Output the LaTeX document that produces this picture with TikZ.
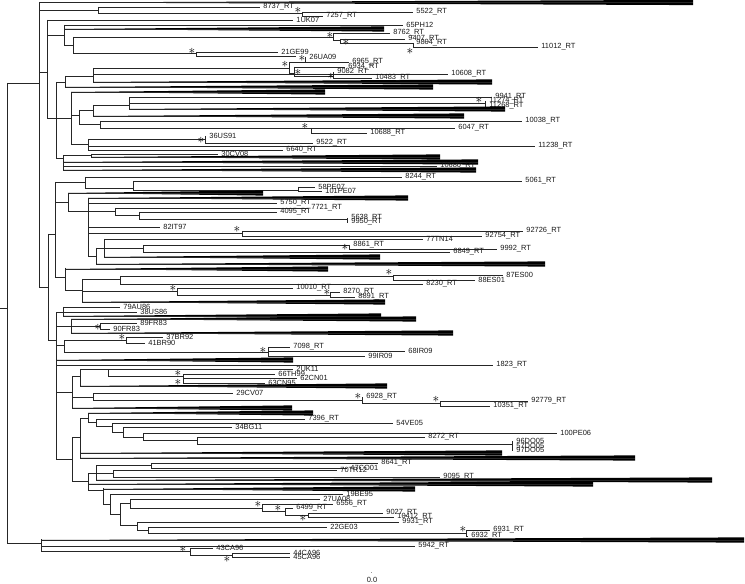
\documentclass[tikz,border=0pt]{standalone}
\usepackage{fontspec}
\setmainfont{Liberation Sans}

% branch with a tip label
\newcommand{\leaf}[4]{\draw (#1,#2) -- (#3,#2) node[lbl] (#4) {#4};}
\newcommand{\rtleaf}[4]{\draw (#1,#2) -- (#3,#2) node[lbl] (rt#4) {#4\_RT};}
% collapsed clade
\newcommand{\clade}[3]{\fill[black] (#1,#2) -- (#3,#2-2.6) -- (#3,#2+2.6) -- cycle;
  \draw (#1,#2) -- (#3,#2);}
% bootstrap mark
\newcommand{\boot}[3]{\node[sig] (#1) at (#2,#3) {$\ast$};}

\begin{document}
\begin{tikzpicture}[x=0.75pt, y=-0.75pt, line width=0.65pt, draw=black!85,
    lbl/.style={anchor=west, inner xsep=2.2pt, inner ysep=0pt, text=black!90,
                font=\fontsize{5.6}{6}\selectfont},
    sig/.style={inner sep=0pt, font=\fontsize{10}{10}\selectfont}]
\fill[white] (0,0) rectangle (745,584);
\useasboundingbox (0,0) rectangle (745,584);

% root
\draw (0,308) -- (7,308);
\draw (7,83) -- (7,543);
\draw (7,83) -- (39,83);
\draw (7,543) -- (41,543);

% upper half
\draw (39,2) -- (39,287);
\clade{39}{2.5}{693}
\draw (39,10) -- (98,10); \draw (98,7) -- (98,13);
\rtleaf{98}{7}{260}{8737}
\draw (98,13) -- (302,13); \boot{s1}{298}{10}
\draw (302,12) -- (302,16);
\rtleaf{302}{12}{413}{5522}
\rtleaf{302}{16}{323}{7257}

\draw (39,72) -- (47,72); \draw (47,20) -- (47,118);
\leaf{47}{20}{293}{1UK07}
\draw (47,35) -- (64,35); \draw (64,25) -- (64,45);
\leaf{64}{25}{403}{65PH12}
\clade{64}{29}{384}
\draw (64,45) -- (73,45); \draw (73,37) -- (73,53);
\draw (73,37) -- (333,37); \boot{s2}{330}{35}
\draw (333,33) -- (333,40);
\rtleaf{333}{33}{390}{8762}
\draw (333,40) -- (340,40); \boot{s3}{346}{42}
\draw (340,39) -- (340,43);
\rtleaf{340}{39}{405}{9407}
\rtleaf{340}{43}{413}{9804}
\draw (413,43) -- (413,47);
\rtleaf{413}{47}{538}{11012}
\boot{s4}{410}{51}
\draw (73,53) -- (196,53); \boot{s5}{192}{51}
\draw (196,52) -- (196,56);
\leaf{196}{52}{278}{21GE99}
\draw (196,56) -- (296,56);

\draw (47,118) -- (71,118);
\draw (56,82) -- (56,158);
\draw (56,82) -- (65,82); \draw (65,76) -- (65,87);
\clade{65}{87}{433}
\draw (65,76) -- (93,76); \draw (93,68) -- (93,82);
\rtleaf{93}{74}{448}{10608}
\clade{93}{82}{492}
\draw (93,68) -- (289,68); \boot{s6}{285}{64}
\draw (289,62) -- (289,73);
\draw (289,62) -- (305,62); \boot{s7}{302}{58}
\draw (305,57) -- (305,62);
\leaf{305}{57}{306}{26UA09}
\rtleaf{305}{62}{349}{6965}
\draw (289,73) -- (294,73); \boot{s8}{298}{72}
\draw (294,67) -- (294,76);
\rtleaf{294}{67}{345}{6934}
\draw (294,76) -- (333,76); \boot{s9}{331}{76}
\draw (333,72) -- (333,78);
\rtleaf{333}{72}{334}{9082}
\rtleaf{333}{78}{372}{10483}

\draw (71,92) -- (71,144);
\clade{71}{92}{325}
\draw (71,115) -- (79,115); \draw (79,110) -- (79,124);
\draw (79,110) -- (93,110); \draw (93,105) -- (93,116);
\clade{93}{116}{464}
\draw (93,105) -- (129,105); \draw (129,97) -- (129,109);
\rtleaf{129}{97}{492}{9941}
\draw (129,103) -- (485,103); \boot{s10}{479}{100}
\draw (485,101) -- (485,106);
\rtleaf{485}{101}{486}{11274}
\rtleaf{485}{106}{486}{11268}
\clade{129}{109}{505}
\draw (79,124) -- (100,124); \draw (100,121) -- (100,128);
\rtleaf{100}{121}{522}{10038}
\draw (100,128) -- (311,128); \boot{s11}{305}{126}
\draw (311,128) -- (311,133);
\rtleaf{311}{128}{455}{6047}
\rtleaf{311}{133}{367}{10688}
\draw (71,144) -- (88,144); \draw (88,139) -- (88,150);
\draw (88,139) -- (205,139); \boot{s12}{201}{140}
\draw (205,136) -- (205,143);
\leaf{205}{136}{206}{36US91}
\rtleaf{205}{143}{313}{9522}
\rtleaf{88}{146}{535}{11238}
\rtleaf{88}{150}{283}{6640}

\draw (56,158) -- (63,158); \draw (63,155) -- (63,170);
\draw (63,155) -- (91,155); \draw (91,154) -- (91,157);
\leaf{91}{154}{218}{30CV08}
\clade{91}{157}{440}
\clade{63}{162}{478}
\rtleaf{63}{166}{437}{10680}
\clade{63}{170}{476}

% middle part
\draw (39,287) -- (48,287); \draw (48,234) -- (48,340);
\draw (48,234) -- (55,234); \draw (55,182) -- (55,277);
\draw (55,182) -- (85,182); \draw (85,177) -- (85,188);
\rtleaf{85}{177}{402}{8244}
\draw (85,188) -- (133,188); \draw (133,181) -- (133,190);
\rtleaf{133}{181}{522}{5061}
\draw (133,190) -- (298,190); \draw (298,187) -- (298,191);
\leaf{298}{187}{315}{58PE07}
\leaf{298}{191}{322}{101PE07}
\draw (55,202) -- (68,202); \draw (68,193) -- (68,211);
\clade{68}{193}{263}
\draw (68,211) -- (88,211); \draw (88,198) -- (88,256);
\clade{88}{198}{408}
\rtleaf{88}{203}{277}{5750}
\draw (88,211) -- (115,211); \draw (115,208) -- (115,215);
\rtleaf{115}{208}{308}{7721}
\draw (115,215) -- (139,215); \draw (139,212) -- (139,219);
\rtleaf{139}{212}{277}{4095}
\draw (139,219) -- (347,219); \draw (347,218) -- (347,222);
\rtleaf{347}{218}{348}{5638}
\rtleaf{347}{222}{348}{9950}
\leaf{88}{227}{160}{82IT97}
\draw (88,233) -- (242,233); \boot{s13}{237}{229}
\draw (242,231) -- (242,236);
\rtleaf{242}{231}{523}{92726}
\rtleaf{242}{236}{482}{92754}
\draw (88,256) -- (96,256); \draw (96,248) -- (96,264);
\draw (96,248) -- (104,248); \draw (104,239) -- (104,257);
\leaf{104}{239}{423}{77TN14}
\draw (104,248) -- (143,248); \draw (143,245) -- (143,252);
\draw (143,245) -- (349,245); \boot{s14}{345}{247}
\draw (349,245) -- (349,249);
\rtleaf{349}{245}{350}{8861}
\rtleaf{349}{249}{497}{9992}
\rtleaf{143}{252}{450}{6849}
\clade{104}{257}{380}
\clade{96}{264}{545}
\draw (55,277) -- (65,277); \draw (65,268) -- (65,290);
\clade{65}{269}{328}
\draw (65,290) -- (82,290); \draw (82,279) -- (82,302);
\draw (82,279) -- (120,279); \draw (120,276) -- (120,284);
\draw (120,276) -- (393,276); \boot{s15}{389}{272}
\draw (393,275) -- (393,280);
\leaf{393}{275}{503}{87ES00}
\leaf{393}{280}{475}{88ES01}
\rtleaf{120}{284}{423}{8230}
\draw (82,291) -- (177,291); \boot{s16}{173}{288}
\draw (177,288) -- (177,295);
\rtleaf{177}{288}{293}{10010}
\draw (177,295) -- (330,295); \boot{s17}{327}{292}
\draw (330,292) -- (330,297);
\rtleaf{330}{292}{340}{8270}
\rtleaf{330}{297}{355}{8891}
\clade{82}{302}{385}

% lower half
\draw (48,340) -- (56,340); \draw (56,312) -- (56,459);
\draw (56,312) -- (63,312); \draw (63,307) -- (63,316);
\leaf{63}{307}{120}{79AU86}
\leaf{63}{312}{137}{38US86}
\clade{63}{316}{381}
\draw (56,326) -- (71,326); \draw (71,319) -- (71,333);
\clade{71}{319}{416}
\draw (71,326) -- (100,326); \boot{s18}{98}{327}
\draw (100,323) -- (100,329);
\leaf{100}{323}{137}{89FR83}
\leaf{100}{329}{110}{90FR83}
\clade{71}{333}{453}
\draw (56,345) -- (64,345); \draw (64,340) -- (64,352);
\draw (64,340) -- (126,340); \boot{s19}{122}{337}
\draw (126,337) -- (126,343);
\leaf{126}{337}{163}{37BR92}
\leaf{126}{343}{145}{41BR90}
\draw (64,352) -- (268,352); \boot{s20}{263}{350}
\draw (268,347) -- (268,356);
\rtleaf{268}{347}{290}{7098}
\leaf{268}{351}{405}{68IR09}
\leaf{268}{356}{365}{99IR09}
\clade{56}{360}{293}
\rtleaf{56}{365}{493}{1823}
\draw (56,392) -- (72,392); \draw (72,376) -- (72,408);
\draw (72,376) -- (80,376); \draw (80,369) -- (80,386);
\draw (80,369) -- (108,369); \draw (108,369) -- (108,376);
\leaf{108}{369}{293}{2UK11}
\draw (108,376) -- (183,376); \draw (183,374) -- (183,383);
\boot{s21}{178}{373} \boot{s22}{178}{382}
\leaf{183}{374}{275}{66TH99}
\leaf{183}{378}{297}{62CN01}
\leaf{183}{383}{265}{63CN95}
\clade{80}{386}{387}
\draw (72,397) -- (93,397); \draw (93,393) -- (93,400);
\leaf{93}{393}{233}{29CV07}
\draw (93,400) -- (362,400); \boot{s23}{358}{396}
\draw (362,397) -- (362,403);
\rtleaf{362}{397}{363}{6928}
\draw (362,403) -- (440,403); \boot{s24}{436}{399}
\draw (440,401) -- (440,406);
\rtleaf{440}{401}{528}{92779}
\rtleaf{440}{406}{490}{10351}
\clade{72}{408}{292}

\draw (56,459) -- (72,459); \draw (72,437) -- (72,481);
\draw (72,437) -- (80,437); \draw (80,418) -- (80,458);
\draw (80,418) -- (88,418); \draw (88,413) -- (88,422);
\clade{88}{413}{313}
\draw (88,422) -- (96,422); \draw (96,419) -- (96,426);
\rtleaf{96}{419}{305}{7396}
\draw (96,426) -- (112,426); \draw (112,423) -- (112,432);
\leaf{112}{423}{393}{54VE05}
\draw (112,432) -- (123,432); \draw (123,427) -- (123,437);
\leaf{123}{427}{232}{34BG11}
\draw (123,437) -- (143,437); \draw (143,433) -- (143,440);
\leaf{143}{433}{557}{100PE06}
\draw (143,440) -- (197,440); \draw (197,437) -- (197,444);
\rtleaf{197}{437}{425}{8272}
\draw (197,444) -- (512,444); \draw (512,441) -- (512,450);
\leaf{512}{441}{513}{96DO05}
\leaf{512}{445.5}{513}{57DO05}
\leaf{512}{450}{513}{97DO05}
\clade{80}{453}{502}
\clade{80}{458}{635}

\draw (72,481) -- (88,481); \draw (88,473) -- (88,490);
\draw (88,473) -- (96,473); \draw (96,465) -- (96,480);
\draw (96,465) -- (151,465); \draw (151,463) -- (151,468);
\rtleaf{151}{463}{378}{8641}
\leaf{151}{468}{347}{47CO01}
\draw (96,473) -- (113,473); \draw (113,470) -- (113,477);
\leaf{113}{470}{337}{70TR12}
\rtleaf{113}{477}{440}{9095}
\clade{96}{480}{712}
\clade{88}{484}{593}
\draw (88,490) -- (103,490); \draw (103,488) -- (103,504);
\clade{103}{489}{415}
\draw (103,504) -- (110,504); \draw (110,494) -- (110,514);
\leaf{110}{494}{343}{19BE95}
\draw (110,514) -- (120,514); \draw (120,503) -- (120,525);
\draw (120,503) -- (130,503); \draw (130,499) -- (130,508);
\leaf{130}{499}{320}{27UA08}
\draw (130,508) -- (262,508); \boot{s25}{258}{504}
\draw (262,504) -- (262,511);
\rtleaf{262}{504}{333}{6556}
\draw (262,511) -- (285,511); \boot{s26}{278}{508}
\draw (285,508) -- (285,515);
\rtleaf{285}{508}{293}{6499}
\draw (285,515) -- (308,515); \boot{s27}{303}{518}
\draw (308,513) -- (308,517);
\rtleaf{308}{513}{383}{9027}
\rtleaf{308}{517}{394}{10412}
\draw (120,525) -- (137,525); \draw (137,522) -- (137,530);
\rtleaf{137}{522}{399}{9931}
\draw (137,530) -- (148,530); \draw (148,527) -- (148,533);
\leaf{148}{527}{327}{22GE03}
\draw (148,533) -- (466,533); \boot{s28}{463}{529}
\draw (466,530) -- (466,536);
\rtleaf{466}{530}{490}{6931}
\rtleaf{466}{536}{468}{6932}

% outgroup
\draw (41,539) -- (41,551);
\clade{41}{540}{744}
\rtleaf{41}{546}{415}{5942}
\draw (41,551) -- (190,551); \boot{s29}{183}{549}
\draw (190,548) -- (190,555);
\leaf{190}{548}{213}{43CA96}
\draw (190,555) -- (232,555); \boot{s30}{227}{559}
\draw (232,553) -- (232,557);
\leaf{232}{553}{290}{44CA96}
\leaf{232}{557}{290}{45CA96}

% scale
\draw[black!40] (371,572) -- (372,572);
\node[font=\fontsize{5.6}{6}\selectfont, text=black!90] (scale) at (372,580) {0.0};
\end{tikzpicture}
\end{document}
